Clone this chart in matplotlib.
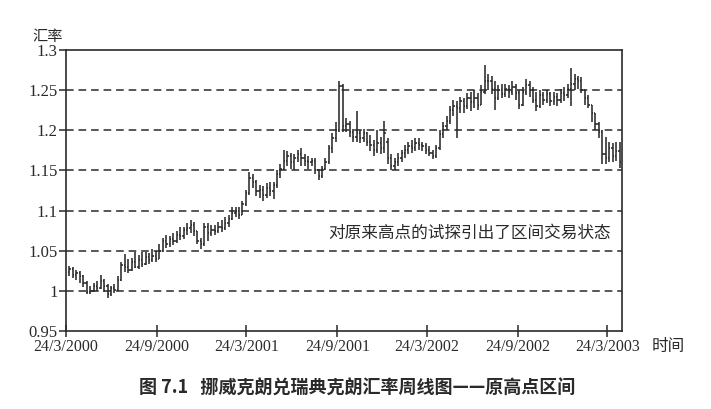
import matplotlib
matplotlib.use("Agg")
import matplotlib.pyplot as plt
import matplotlib.dates as mdates
import numpy as np
import datetime as dt

# ---- data (weekly OHLC) ----
start_week = dt.date(2000, 3, 31)
opens = [1.024, 1.027, 1.020, 1.022, 1.018, 1.010, 0.999, 1.000, 1.006, 1.004,
         1.012, 1.006, 0.996, 1.003, 1.001, 1.014, 1.032, 1.030, 1.026, 1.036,
         1.030, 1.038, 1.034, 1.042, 1.038, 1.044, 1.040, 1.050, 1.062, 1.058,
         1.064, 1.062, 1.070, 1.068, 1.076, 1.078, 1.082, 1.075, 1.062, 1.058,
         1.080, 1.072, 1.076, 1.074, 1.080, 1.078, 1.084, 1.090, 1.097, 1.100,
         1.095, 1.108, 1.122, 1.140, 1.135, 1.124, 1.126, 1.120, 1.128, 1.124,
         1.132, 1.145, 1.152, 1.162, 1.168, 1.160, 1.166, 1.170, 1.165, 1.162,
         1.160, 1.162, 1.150, 1.143, 1.152, 1.160, 1.178, 1.190, 1.200, 1.255,
         1.205, 1.208, 1.198, 1.192, 1.196, 1.190, 1.196, 1.186, 1.182, 1.175,
         1.184, 1.178, 1.186, 1.165, 1.155, 1.160, 1.166, 1.172, 1.176, 1.180,
         1.178, 1.184, 1.182, 1.180, 1.176, 1.172, 1.168, 1.178, 1.195, 1.205,
         1.212, 1.225, 1.230, 1.228, 1.236, 1.230, 1.240, 1.235, 1.240, 1.232,
         1.248, 1.262, 1.262, 1.252, 1.240, 1.250, 1.245, 1.252, 1.248, 1.254,
         1.246, 1.232, 1.248, 1.256, 1.250, 1.238, 1.230, 1.244, 1.238, 1.245,
         1.236, 1.242, 1.238, 1.246, 1.244, 1.252, 1.258, 1.264, 1.262, 1.250,
         1.240, 1.232, 1.222, 1.208, 1.198, 1.170, 1.165, 1.178, 1.168, 1.174]
highs = [1.031, 1.030, 1.026, 1.025, 1.020, 1.012, 1.006, 1.010, 1.012, 1.020,
         1.015, 1.008, 1.006, 1.008, 1.018, 1.036, 1.046, 1.040, 1.041, 1.048,
         1.045, 1.049, 1.048, 1.047, 1.052, 1.050, 1.058, 1.066, 1.070, 1.068,
         1.072, 1.075, 1.080, 1.080, 1.085, 1.088, 1.086, 1.075, 1.066, 1.085,
         1.084, 1.082, 1.082, 1.086, 1.088, 1.092, 1.094, 1.104, 1.105, 1.104,
         1.112, 1.126, 1.148, 1.146, 1.138, 1.132, 1.130, 1.134, 1.135, 1.136,
         1.150, 1.158, 1.176, 1.174, 1.172, 1.170, 1.176, 1.178, 1.170, 1.168,
         1.166, 1.165, 1.152, 1.156, 1.166, 1.182, 1.196, 1.210, 1.262, 1.258,
         1.215, 1.212, 1.202, 1.224, 1.200, 1.202, 1.198, 1.194, 1.188, 1.200,
         1.192, 1.212, 1.190, 1.170, 1.166, 1.172, 1.176, 1.182, 1.186, 1.188,
         1.190, 1.190, 1.186, 1.184, 1.180, 1.176, 1.182, 1.200, 1.210, 1.218,
         1.230, 1.238, 1.236, 1.242, 1.240, 1.246, 1.248, 1.250, 1.246, 1.256,
         1.281, 1.270, 1.268, 1.262, 1.256, 1.258, 1.258, 1.256, 1.262, 1.258,
         1.250, 1.254, 1.264, 1.262, 1.254, 1.248, 1.250, 1.248, 1.250, 1.248,
         1.248, 1.246, 1.252, 1.254, 1.258, 1.277, 1.270, 1.268, 1.266, 1.250,
         1.244, 1.230, 1.218, 1.210, 1.200, 1.192, 1.186, 1.184, 1.186, 1.186]
lows = [1.018, 1.016, 1.014, 1.010, 1.005, 0.996, 0.996, 0.999, 1.000, 1.002,
        0.998, 0.991, 0.994, 0.997, 1.000, 1.012, 1.024, 1.022, 1.025, 1.028,
        1.027, 1.030, 1.032, 1.034, 1.036, 1.036, 1.040, 1.048, 1.053, 1.055,
        1.057, 1.060, 1.063, 1.065, 1.070, 1.072, 1.068, 1.058, 1.052, 1.056,
        1.062, 1.068, 1.069, 1.072, 1.073, 1.076, 1.080, 1.088, 1.092, 1.090,
        1.094, 1.106, 1.120, 1.128, 1.118, 1.116, 1.112, 1.116, 1.118, 1.114,
        1.128, 1.140, 1.150, 1.155, 1.152, 1.150, 1.160, 1.156, 1.155, 1.152,
        1.155, 1.146, 1.138, 1.140, 1.150, 1.158, 1.172, 1.185, 1.198, 1.198,
        1.198, 1.192, 1.185, 1.186, 1.184, 1.185, 1.180, 1.174, 1.168, 1.172,
        1.170, 1.172, 1.158, 1.150, 1.150, 1.156, 1.160, 1.166, 1.170, 1.172,
        1.174, 1.176, 1.174, 1.170, 1.168, 1.164, 1.166, 1.176, 1.190, 1.200,
        1.208, 1.218, 1.190, 1.222, 1.222, 1.226, 1.224, 1.228, 1.225, 1.232,
        1.245, 1.250, 1.245, 1.225, 1.238, 1.240, 1.242, 1.240, 1.244, 1.238,
        1.226, 1.230, 1.244, 1.242, 1.234, 1.224, 1.228, 1.232, 1.234, 1.230,
        1.232, 1.230, 1.234, 1.236, 1.240, 1.230, 1.250, 1.252, 1.246, 1.232,
        1.228, 1.210, 1.200, 1.190, 1.158, 1.158, 1.160, 1.160, 1.162, 1.153]
closes = [1.027, 1.020, 1.022, 1.018, 1.010, 0.999, 1.000, 1.006, 1.004, 1.012,
          1.006, 0.996, 1.003, 1.001, 1.014, 1.032, 1.030, 1.026, 1.036, 1.030,
          1.038, 1.034, 1.042, 1.038, 1.044, 1.040, 1.050, 1.062, 1.058, 1.064,
          1.062, 1.070, 1.068, 1.076, 1.078, 1.082, 1.075, 1.062, 1.058, 1.080,
          1.072, 1.076, 1.074, 1.080, 1.078, 1.084, 1.090, 1.097, 1.100, 1.095,
          1.108, 1.122, 1.140, 1.135, 1.124, 1.126, 1.120, 1.128, 1.124, 1.132,
          1.145, 1.152, 1.162, 1.168, 1.160, 1.166, 1.170, 1.165, 1.162, 1.160,
          1.162, 1.150, 1.143, 1.152, 1.160, 1.178, 1.190, 1.200, 1.255, 1.205,
          1.208, 1.198, 1.192, 1.196, 1.190, 1.196, 1.186, 1.182, 1.175, 1.184,
          1.178, 1.196, 1.165, 1.155, 1.160, 1.166, 1.172, 1.176, 1.180, 1.178,
          1.184, 1.182, 1.180, 1.176, 1.172, 1.168, 1.178, 1.195, 1.205, 1.212,
          1.225, 1.230, 1.228, 1.236, 1.230, 1.240, 1.235, 1.240, 1.232, 1.248,
          1.262, 1.262, 1.252, 1.240, 1.250, 1.245, 1.252, 1.248, 1.254, 1.246,
          1.232, 1.248, 1.256, 1.250, 1.238, 1.230, 1.244, 1.238, 1.245, 1.236,
          1.242, 1.238, 1.246, 1.244, 1.252, 1.258, 1.264, 1.262, 1.250, 1.240,
          1.232, 1.222, 1.208, 1.198, 1.170, 1.165, 1.178, 1.168, 1.174, 1.160]

tick_dates = [dt.date(2000, 3, 24), dt.date(2000, 9, 24), dt.date(2001, 3, 24),
              dt.date(2001, 9, 24), dt.date(2002, 3, 24), dt.date(2002, 9, 24),
              dt.date(2003, 3, 24)]
tick_labels = ["24/3/2000", "24/9/2000", "24/3/2001", "24/9/2001",
               "24/3/2002", "24/9/2002", "24/3/2003"]
y_ticks = [0.95, 1.0, 1.05, 1.1, 1.15, 1.2, 1.25, 1.3]
y_tick_labels = ["0.95", "1", "1.05", "1.1", "1.15", "1.2", "1.25", "1.3"]
grid_levels = [1.0, 1.05, 1.1, 1.15, 1.2, 1.25]

y_label = "汇率"
x_label = "时间"
note = "对原来高点的试探引出了区间交易状态"
caption = "图 7.1   挪威克朗兑瑞典克朗汇率周线图——原高点区间"

# ---- figure ----
cjk = ["Noto Sans CJK SC", "DejaVu Sans"]
serif = ["Liberation Serif", "DejaVu Serif"]
ink = "#2a2a2a"

fig = plt.figure(figsize=(7.11, 4.09), dpi=100)
ax = fig.add_axes([66 / 711, 1 - 331 / 409, (622 - 66) / 711, (331 - 50) / 409])

dates = [start_week + dt.timedelta(days=7 * i) for i in range(len(closes))]
d = mdates.date2num(dates)
o = np.array(opens); h = np.array(highs); l = np.array(lows); c = np.array(closes)
top = np.maximum.reduce([h, o, c]); bot = np.minimum.reduce([l, o, c])
half = 2.6
ax.vlines(d, bot, top, color=ink, linewidth=1.15)
ax.hlines(o, d - half, d, color=ink, linewidth=1.15)
ax.hlines(c, d, d + half, color=ink, linewidth=1.15)

for g in grid_levels:
    ax.axhline(g, color=ink, linewidth=1.1, linestyle=(0, (5, 3.2)), zorder=0)

x0 = mdates.date2num(dt.date(2000, 3, 24))
x1 = mdates.date2num(dt.date(2003, 4, 23))
ax.set_xlim(x0, x1)
ax.set_ylim(0.95, 1.3)
ax.set_xticks(mdates.date2num(tick_dates))
ax.set_xticklabels(tick_labels, family=serif, fontsize=11.5, color=ink)
ax.set_yticks(y_ticks)
ax.set_yticklabels(y_tick_labels, family=serif, fontsize=12, color=ink)
ax.tick_params(axis="x", direction="inout", length=8, width=1.1, color=ink, pad=2)
ax.tick_params(axis="y", direction="out", length=5, width=1.1, color=ink, pad=1)
for s in ax.spines.values():
    s.set_color(ink)
    s.set_linewidth(1.2)

fig.text(48 / 711, 1 - 36 / 409, y_label, family=cjk, fontsize=11, color=ink,
         ha="center", va="center")
fig.text(668 / 711, 1 - 347 / 409, x_label, family=cjk, fontsize=12, color=ink,
         ha="center", va="center")
ax.text(mdates.date2num(dt.date(2001, 9, 5)), 1.072, note, family=cjk, fontsize=12,
        color=ink, ha="left", va="center")
fig.text(357 / 711, 1 - 388 / 409, caption, family=cjk, fontsize=13,
         fontweight="bold", color=ink, ha="center", va="center")

fig.savefig("out.png", dpi=100, facecolor="white")
